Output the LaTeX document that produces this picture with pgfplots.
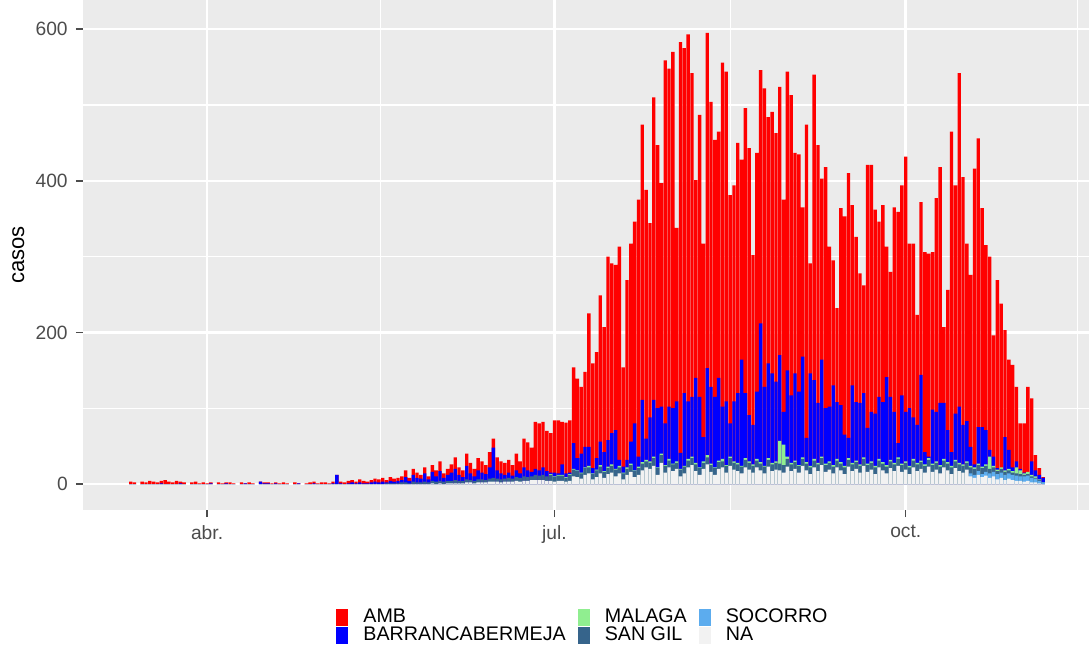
\documentclass[border=0pt]{standalone}
\usepackage{pgfplots}
\usepackage{pgfplotstable}
\pgfplotsset{compat=1.18}
\usepackage{fontspec}
\setmainfont{Liberation Sans}
\definecolor{bg}{HTML}{EBEBEB}
\definecolor{sangil}{HTML}{36648B}
\definecolor{malaga}{HTML}{90EE90}
\definecolor{socorro}{HTML}{5CACEE}
\definecolor{nacol}{HTML}{F2F2F2}
\pgfplotstableread{
d tot blu mal sg soc na
-20 3 0 0 0 0 0
-19 2 0 0 0 0 0
-17 3 0 0 0 0 0
-16 2 0 0 0 0 0
-15 4 0 0 0 0 0
-14 3 0 0 0 0 0
-13 2 0 0 0 0 0
-12 4 1 0 0 0 0
-11 5 0 0 0 0 0
-10 3 0 0 0 0 0
-9 2 0 0 0 0 0
-8 4 0 0 0 0 0
-7 3 1 0 0 0 0
-6 2 0 0 0 0 0
-4 2 0 0 0 0 0
-3 3 0 0 0 0 0
-2 1 0 0 0 0 0
-1 2 0 0 0 0 0
0 1 0 0 0 0 0
1 2 1 0 0 0 0
3 2 0 0 0 0 0
4 1 0 0 0 0 0
5 2 1 0 0 0 0
6 2 0 0 0 0 0
7 1 0 0 0 0 0
9 2 0 0 0 0 0
10 1 1 0 0 0 0
11 2 0 0 0 0 0
12 1 0 0 0 0 0
14 3 3 0 0 0 0
15 2 1 0 0 0 0
16 2 1 0 0 0 0
17 1 0 0 0 0 0
18 2 1 0 0 0 0
19 1 0 0 0 0 0
20 2 0 0 0 0 0
21 1 0 0 0 0 0
23 2 0 0 0 0 0
24 1 1 0 0 0 0
26 1 0 0 0 0 0
27 2 0 0 0 0 0
28 3 1 0 0 0 0
29 1 0 0 0 0 0
30 2 0 0 0 0 0
31 2 0 0 0 0 0
32 1 0 0 0 0 0
33 3 1 0 0 0 0
34 12 12 0 0 0 0
35 3 1 0 0 0 0
36 2 0 0 0 0 0
37 4 1 0 0 0 0
38 5 2 0 0 0 0
39 3 1 0 0 0 0
40 6 2 0 0 0 0
41 4 1 0 0 0 0
42 3 1 0 0 0 0
43 5 2 0 0 0 0
44 7 3 0 0 0 0
45 6 2 0 0 0 0
46 8 3 0 0 0 0
47 5 2 0 1 0 0
48 9 4 0 1 0 0
49 7 3 0 1 0 0
50 8 4 0 1 0 0
51 10 5 0 2 0 0
52 18 9 0 2 0 0
53 8 4 0 1 0 0
54 20 12 0 3 0 0
55 15 8 0 2 0 0
56 12 7 0 2 0 0
57 22 14 0 3 0 0
58 10 6 0 2 0 0
59 25 16 0 4 0 1
60 18 10 0 3 0 0
61 30 17 0 4 0 1
62 14 8 0 3 0 0
63 20 12 0 4 0 1
64 26 15 0 4 0 1
65 35 20 0 5 0 1
66 22 12 0 4 0 1
67 18 9 0 4 0 1
68 40 24 0 6 0 2
69 28 14 0 5 0 2
70 20 10 0 4 0 1
71 34 18 0 6 0 2
72 30 15 0 6 0 2
73 25 13 0 5 0 2
74 42 22 0 7 0 3
75 60 48 0 8 0 3
76 35 18 0 7 0 3
77 30 14 0 6 0 2
78 28 12 0 7 0 3
79 32 15 0 8 0 3
80 25 11 0 7 0 3
81 40 18 0 9 0 4
82 30 14 0 8 0 3
83 60 22 0 10 0 4
84 55 18 0 9 0 4
85 48 16 0 10 0 5
86 82 20 0 12 0 5
87 80 18 0 11 0 5
88 82 22 0 12 0 5
89 70 17 0 10 0 4
90 67 15 13 12 0 4
91 84 15 10 9 0 3
92 84 14 12 11 0 4
93 82 26 12 11 0 4
94 81 14 9 8 0 3
95 84 15 13 12 0 4
96 154 54 20 19 0 10
97 139 34 18 17 0 9
98 128 40 15 14 0 7
99 148 49 22 21 0 12
100 225 49 24 22 0 14
101 159 21 14 13 0 6
102 174 34 19 18 0 9
103 249 56 25 23 0 14
104 207 42 17 16 0 8
105 300 58 23 21 0 13
106 291 67 26 24 0 15
107 289 71 20 19 0 10
108 313 32 24 22 0 14
109 154 23 15 14 0 6
110 269 32 22 20 0 12
111 317 56 27 25 0 16
112 346 80 18 17 0 9
113 375 36 23 21 0 12
114 474 111 29 27 0 18
115 388 60 32 30 0 22
116 344 88 30 28 0 20
117 510 111 36 34 0 24
118 447 100 22 21 0 12
119 397 102 40 38 0 28
120 559 80 25 24 0 15
121 548 102 33 31 0 22
122 570 100 27 26 0 17
123 338 109 30 28 0 20
124 583 41 20 19 0 10
125 575 120 24 23 0 14
126 593 109 33 31 0 22
127 542 115 36 34 0 25
128 401 140 28 26 0 17
129 487 115 22 21 0 12
130 317 62 30 28 0 20
131 595 153 38 35 0 26
132 504 128 27 25 0 16
133 454 115 22 21 0 12
134 465 140 31 29 0 20
135 556 102 33 30 0 22
136 544 109 25 24 0 15
137 381 80 36 34 0 24
138 394 109 30 28 0 19
139 450 120 28 26 0 17
140 428 164 24 23 0 14
141 496 120 34 32 0 22
142 443 91 30 28 0 19
143 302 78 26 24 0 15
144 437 122 33 31 0 22
145 546 212 29 27 0 18
146 522 128 24 23 0 14
147 484 159 34 32 0 23
148 491 146 28 26 0 17
149 463 135 30 28 0 19
150 524 170 57 27 0 18
151 375 95 52 25 0 15
152 544 150 36 33 0 23
153 513 117 28 26 0 17
154 437 146 31 29 0 20
155 435 122 25 24 0 15
156 365 168 35 33 0 24
157 474 61 29 27 0 18
158 291 146 24 22 0 13
159 540 137 33 31 0 22
160 447 107 28 26 0 17
161 403 164 36 34 0 25
162 418 100 27 25 0 16
163 313 102 30 28 0 19
164 295 130 25 23 0 14
165 232 108 33 31 0 22
166 364 104 29 27 0 18
167 353 65 24 22 0 13
168 410 61 34 32 0 23
169 368 130 28 26 0 17
170 326 108 31 29 0 20
171 278 107 26 24 0 15
172 262 120 35 33 0 24
173 421 74 27 25 0 16
174 421 95 30 28 0 19
175 362 93 24 22 0 13
176 346 115 33 31 0 22
177 368 108 29 27 0 18
178 313 141 25 23 0 14
179 280 115 32 30 0 21
180 365 95 28 26 0 17
181 359 54 35 33 0 24
182 394 117 27 25 0 16
183 432 95 30 28 0 19
184 317 100 24 22 0 13
185 317 88 33 31 0 22
186 223 78 28 26 0 17
187 372 144 31 29 0 20
188 306 42 26 24 0 15
189 304 36 34 32 0 23
190 306 98 27 25 0 16
191 377 95 30 28 0 19
192 418 107 25 23 0 14
193 207 107 33 31 0 22
194 256 71 29 27 0 18
195 465 42 24 22 0 13
196 394 93 32 30 0 21
197 542 102 28 26 0 17
198 405 78 26 24 0 15
199 317 83 30 28 0 19
200 276 49 24 22 14 10
201 416 26 22 20 12 8
202 456 75 27 25 17 12
203 364 75 23 21 13 9
204 315 71 26 24 16 11
205 300 45 36 20 14 8
206 196 36 24 22 16 10
207 269 21 19 17 13 6
208 238 17 22 20 15 8
209 203 62 18 16 12 5
210 164 45 20 18 14 7
211 157 22 17 15 12 5
212 128 30 22 14 11 4
213 80 20 18 13 10 4
214 80 15 14 12 10 3
215 128 15 16 13 11 4
216 113 30 12 10 8 2
217 38 18 10 8 7 2
218 21 12 6 5 4 1
219 9 8 2 2 2 0
}\data
\begin{document}
\begin{tikzpicture}
\clip (-1.245cm,-2.01cm) rectangle (15.09cm,7.65cm);
\begin{axis}[
  at={(0,0)}, anchor=south west,
  scale only axis, width=15.09cm, height=7.65cm,
  axis background/.style={fill=bg},
  axis line style={draw=none},
  xmin=-32.5, xmax=231, ymin=-34.3, ymax=638.5,
  xtick={0,91,183}, xticklabels={abr.,jul.,oct.},
  minor xtick={-45.5,45.5,137,228},
  ytick={0,200,400,600}, minor ytick={100,300,500},
  grid=both,
  major grid style={white, line width=1.1pt},
  minor grid style={white, line width=0.5pt},
  tick style={gray!60!black, line width=0.6pt},
  major tick length=3pt, minor tick length=0pt,
  tick align=outside, xtick pos=bottom, ytick pos=left,
  ticklabel style={font=\fontsize{8.2}{9}\selectfont, text=black!70},
  /pgf/number format/assume math mode=true,
  ylabel={casos}, ylabel style={font=\fontsize{9.4}{10}\selectfont, yshift=-2pt},
  ybar, bar width=0.88, bar shift=0pt,
  legend columns=3,
  legend image code/.code={\fill (0cm,-0.125cm) rectangle (0.18cm,0.13cm);},
  legend style={draw=none, fill=none, inner sep=0pt, at={(0.2515,-0.193)}, anchor=north west,
    font=\fontsize{8.4}{8}\selectfont, row sep=0pt,
    nodes={inner sep=0pt, text height=5.9pt, text depth=1.8pt},
    /tikz/every odd column/.append style={column sep=0.225cm},
    /tikz/every even column/.append style={column sep=0.18cm}},
  legend cell align=left,
]
\addplot[fill=red, draw=none, forget plot] table[x=d,y=tot]{\data};
\addplot[fill=blue, draw=none, forget plot] table[x=d,y=blu]{\data};
\addplot[fill=malaga, draw=none, forget plot] table[x=d,y=mal]{\data};
\addplot[fill=sangil, draw=none, forget plot] table[x=d,y=sg]{\data};
\addplot[fill=socorro, draw=none, forget plot] table[x=d,y=soc]{\data};
\addplot[fill=nacol, draw=none, forget plot] table[x=d,y=na]{\data};
\addlegendimage{fill=red, draw=none}\addlegendentry{AMB}
\addlegendimage{fill=malaga, draw=none}\addlegendentry{MALAGA}
\addlegendimage{fill=socorro, draw=none}\addlegendentry{SOCORRO}
\addlegendimage{fill=blue, draw=none}\addlegendentry{BARRANCABERMEJA}
\addlegendimage{fill=sangil, draw=none}\addlegendentry{SAN GIL}
\addlegendimage{fill=nacol, draw=none}\addlegendentry{NA}
\end{axis}
\end{tikzpicture}
\end{document}
